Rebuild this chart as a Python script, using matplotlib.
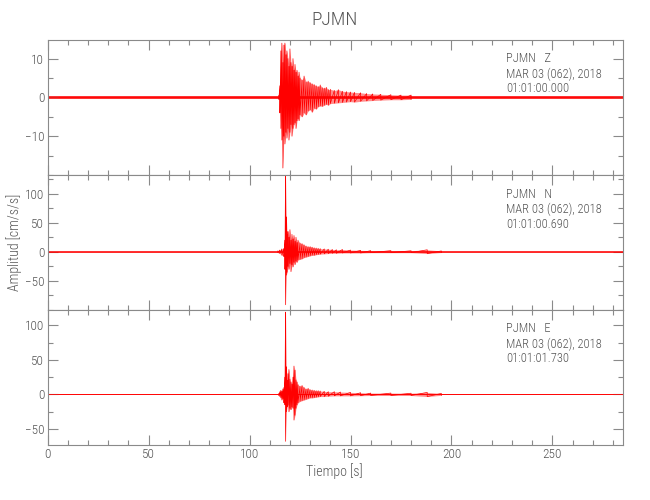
import numpy as np
import matplotlib
matplotlib.use('Agg')
import matplotlib.pyplot as plt
from matplotlib.ticker import MultipleLocator

plt.rcParams['font.family'] = ['Roboto Condensed', 'Liberation Sans Narrow', 'Roboto', 'DejaVu Sans']
plt.rcParams['font.weight'] = 'light'

station = 'PJMN'
fecha = 'MAR 03 (062), 2018'
t_max = 285

# componente Z (peaks: time, upper peak, lower peak)
t_z = [114.5, 115.0, 115.5, 116.0, 116.5, 117.0, 117.5, 118.0, 118.5, 119.0, 119.5,
       120.0, 120.5, 121.0, 121.5, 122.0, 122.5, 123.0, 123.5, 124.0, 124.5, 125.0,
       126, 127, 128, 129, 130, 131, 132, 133, 134, 135, 136, 137, 138, 139, 140,
       142, 144, 146, 148, 150, 152, 155, 158, 161, 165, 170, 175, 180]
hi_z = [0.5, 3, 12, 14, 9, 13.5, 14, 11, 12, 10, 8,
        12.5, 9, 8, 10, 7, 8.5, 6.5, 7, 5.5, 6.5, 5,
        4.5, 5.5, 4, 4.2, 3.8, 3.5, 3.3, 3, 2.8, 3.2, 2.5, 2.4, 2.6, 2, 2.1,
        1.8, 2, 1.6, 1.5, 1.4, 1.3, 1.2, 1.0, 0.9, 0.8, 0.7, 0.6, 0.6]
lo_z = [-0.5, -4, -8, -11, -18.2, -10, -12, -9, -10.5, -8, -11,
        -9, -7, -10, -8, -7, -6.5, -8, -6, -5.5, -6, -4.5,
        -5, -4, -4.5, -3.5, -3.2, -3.8, -2.8, -3, -2.4, -2.2, -2.3, -2, -1.8, -2, -1.6,
        -1.5, -1.4, -1.3, -1.2, -1.1, -1.2, -1, -0.9, -0.8, -0.7, -0.6, -0.6, -0.5]

# componente N
t_n = [114.0, 115.0, 116.0, 117.0, 117.5, 117.8, 118.2, 118.6, 119.0, 119.5, 120.0,
       120.5, 121.0, 121.5, 122.0, 122.5, 123.0, 123.5, 124.0, 125, 126, 127, 128,
       129, 130, 131, 132, 133, 134, 135, 137, 139, 141, 143, 146, 150, 155, 160,
       170, 180, 188, 195]
hi_n = [1.5, 3, 5, 6, 20, 130, 60, 30, 35, 25, 38,
        20, 30, 22, 28, 18, 25, 16, 20, 15, 14, 12, 10,
        9, 9, 8, 7, 6.5, 6, 5.5, 5, 4.5, 4, 3.5, 4, 3, 2.5, 2,
        2, 1.8, 3.5, 1.5]
lo_n = [-1.5, -3, -6, -8, -30, -91, -40, -35, -25, -30, -20,
        -34, -22, -26, -18, -22, -16, -18, -14, -13, -12, -10, -9,
        -8, -7, -6, -6, -5, -4.5, -4, -3.5, -3, -2.5, -2.5, -2, -2, -2, -1.5,
        -1.5, -1.5, -3, -1.2]

# componente E
t_e = [114.5, 115.0, 115.5, 116.0, 116.5, 117.0, 117.5, 117.8, 118.2, 118.6, 119.0,
       119.5, 120.0, 120.5, 121.0, 121.5, 122.0, 122.5, 123.0, 123.5, 124.0, 125,
       126, 127, 128, 129, 130, 131, 132, 133, 134, 135, 137, 139, 142, 145, 150,
       155, 160, 170, 180, 188, 195]
hi_e = [1.5, 4, 6, 5, 8, 10, 25, 119, 40, 20, 30,
        36, 22, 18, 15, 25, 41, 35, 21, 18, 14, 12,
        13, 10, 8, 9, 7, 6.5, 6, 5.5, 5.5, 5, 4.5, 4, 4, 3.5, 3,
        2.5, 2, 2, 1.8, 3, 1.5]
lo_e = [-1.5, -3, -5, -8, -6, -12, -15, -67.7, -25, -18, -15,
        -25, -20, -22, -18, -20, -37, -30, -20, -15, -12, -10,
        -9, -8, -7, -6, -5, -5, -4.5, -4, -3.5, -3, -3, -2.5, -2, -2, -2,
        -1.8, -1.5, -1.5, -1.5, -3, -1.2]

componentes = ['Z', 'N', 'E']
horas = ['01:01:00.000', '01:01:00.690', '01:01:01.730']
ruido = [0.35, 0.7, 0.7]
ylims = [(-20, 14.8), (-100, 132), (-73, 122)]
yticks = [[-10, 0, 10], [-50, 0, 50, 100], [-50, 0, 50, 100]]
yminor = [5, 25, 25]
trazas = [(t_z, hi_z, lo_z), (t_n, hi_n, lo_n), (t_e, hi_e, lo_e)]

gris = '#8a8a8a'
texto = '#555555'

fig = plt.figure(figsize=(6.5, 5), dpi=100)
axes = fig.subplots(3, 1, sharex=True)
fig.subplots_adjust(left=0.0734, right=0.9585, top=0.92, bottom=0.11, hspace=0)

for i, ax in enumerate(axes):
    t, hi, lo = trazas[i]
    x = np.repeat(t, 2)
    y = np.column_stack([hi, lo]).ravel()
    ax.fill_between([0, t_max], -ruido[i], ruido[i], color='red', alpha=0.8, lw=0)
    ax.axhline(0, color='red', lw=0.6)
    # coda envelope, light, then the trace itself
    ax.fill_between(t, lo, hi, color='red', alpha=0.45, lw=0)
    ax.plot(x, y, color='red', lw=0.5)

    ax.set_xlim(0, t_max)
    ax.set_ylim(*ylims[i])
    ax.set_yticks(yticks[i])
    ax.yaxis.set_minor_locator(MultipleLocator(yminor[i]))
    ax.xaxis.set_major_locator(MultipleLocator(50))
    ax.xaxis.set_minor_locator(MultipleLocator(10))
    ax.tick_params(which='both', direction='in', top=True, right=True,
                   colors=gris, labelcolor=texto, labelsize=9.5, width=0.8, pad=2.5)
    ax.tick_params(which='major', length=7)
    ax.tick_params(which='minor', length=3.6)
    for s in ax.spines.values():
        s.set_color(gris)
        s.set_linewidth(0.8)

    etiquetas = [station + '   ' + componentes[i], fecha, horas[i]]
    for k, linea in enumerate(etiquetas):
        ax.annotate(linea, xy=(0.797, 1), xycoords='axes fraction',
                    xytext=(0, -19 - 15 * k), textcoords='offset pixels',
                    ha='left', va='center', fontsize=9, color=texto)

fig.text(0.515, 0.96, station, ha='center', va='center', fontsize=14, color=texto)
fig.text(0.022, 0.515, 'Amplitud [cm/s/s]', rotation=90, ha='center', va='center',
         fontsize=10, color=texto)
fig.text(0.515, 0.058, 'Tiempo [s]', ha='center', va='center', fontsize=10, color=texto)

fig.savefig('out.png', dpi=100)
